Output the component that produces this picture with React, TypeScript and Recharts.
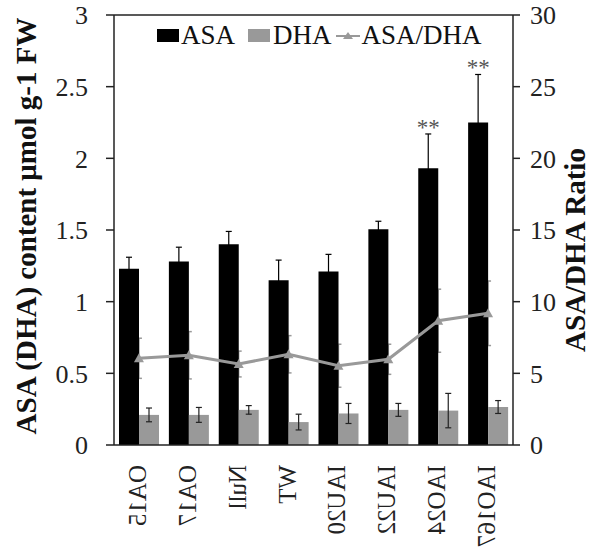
import React from "react";
import {
  ComposedChart,
  Bar,
  Line,
  XAxis,
  YAxis,
  ErrorBar,
  Legend,
  ReferenceLine,
  LabelList,
} from "recharts";

const CATEGORIES = ["OA15", "OA17", "Null", "WT", "IAU20", "IAU22", "IAO24", "IAO167"];
const ASA = [1.23, 1.28, 1.4, 1.15, 1.21, 1.505, 1.93, 2.25];
const ASA_ERR = [0.08, 0.1, 0.09, 0.14, 0.12, 0.056, 0.24, 0.335];
const DHA = [0.21, 0.21, 0.245, 0.16, 0.22, 0.245, 0.24, 0.265];
const DHA_ERR = [0.048, 0.052, 0.03, 0.055, 0.07, 0.045, 0.12, 0.045];
const RATIO = [6.05, 6.26, 5.65, 6.33, 5.53, 5.98, 8.67, 9.19];
const RATIO_ERR = [1.4, 1.65, 0.9, 1.3, 1.5, 1.05, 2.2, 2.25];
const SIG = ["", "", "", "", "", "", "**", "**"];

const LEFT_TICKS = [0, 0.5, 1, 1.5, 2, 2.5, 3];
const RIGHT_TICKS = [0, 5, 10, 15, 20, 25, 30];
const EDGE_TICKS = [0, 1, 2, 3, 4, 5, 6, 7, 8];

const SERIF = '"Liberation Serif", "Times New Roman", serif';
const GREY = "#999999";
const AXIS = "#222222";

const data = CATEGORIES.map((name, i) => ({
  name,
  ASA: ASA[i],
  asaErr: ASA_ERR[i],
  DHA: DHA[i],
  dhaErr: DHA_ERR[i],
  ratio: RATIO[i],
  ratioErr: RATIO_ERR[i],
  sig: SIG[i],
}));

function CategoryTick({ x, y, payload }: any) {
  // labels run top to bottom with the glyph tops facing left
  return (
    <text
      transform={`matrix(0,1,1,0,${x + 7},${y + 18})`}
      fontSize={25}
      fontFamily={SERIF}
      fill={AXIS}
    >
      {payload.value}
    </text>
  );
}

function Triangle({ cx, cy }: any) {
  if (cx == null || cy == null) return null;
  return <path d={`M${cx - 5},${cy + 4} L${cx + 5},${cy + 4} L${cx},${cy - 5} Z`} fill={GREY} />;
}

function SigLabel({ x, y, width, height, value, index }: any) {
  if (!value) return null;
  const top = y - (height * ASA_ERR[index]) / ASA[index];
  return (
    <text x={x + width / 2} y={top + 1} textAnchor="middle" fontSize={23} fontFamily={SERIF} fill="#555">
      {value}
    </text>
  );
}

function LeftLabel({ viewBox }: any) {
  const cx = viewBox.x + 36;
  const cy = viewBox.y + viewBox.height / 2 - 4;
  return (
    <text
      x={cx}
      y={cy}
      transform={`rotate(-90 ${cx} ${cy})`}
      textAnchor="middle"
      fontSize={29}
      fontWeight="bold"
      fontFamily={SERIF}
      fill="#111"
    >
      ASA (DHA) content μmol g-1 FW
    </text>
  );
}

function RightLabel({ viewBox }: any) {
  const cx = viewBox.x + 72;
  const cy = viewBox.y + viewBox.height / 2 + 20;
  return (
    <text
      x={cx}
      y={cy}
      transform={`rotate(-90 ${cx} ${cy})`}
      textAnchor="middle"
      fontSize={29}
      fontWeight="bold"
      fontFamily={SERIF}
      fill="#111"
    >
      ASA/DHA Ratio
    </text>
  );
}

function LegendContent() {
  const text = { fontFamily: SERIF, fontSize: 27, color: "#111", lineHeight: "27px" };
  return (
    <div style={{ display: "flex", alignItems: "center", whiteSpace: "nowrap" }}>
      <span style={{ width: 22, height: 13, background: "#000", marginRight: 2 }} />
      <span style={{ ...text, marginRight: 13 }}>ASA</span>
      <span style={{ width: 22, height: 13, background: GREY, marginRight: 3 }} />
      <span style={{ ...text, marginRight: 4 }}>DHA</span>
      <svg width={24} height={14} style={{ marginRight: 2 }}>
        <line x1={0} y1={7} x2={24} y2={7} stroke={GREY} strokeWidth={2} />
        <path d="M7,10 L17,10 L12,3 Z" fill={GREY} />
      </svg>
      <span style={text}>ASA/DHA</span>
    </div>
  );
}

export default function App() {
  return (
    <div style={{ position: "absolute", left: 0, top: 0, background: "#fff" }}>
      <ComposedChart
        width={591}
        height={554}
        data={data}
        margin={{ top: 15, right: 0, bottom: 0, left: 0 }}
        barSize={20}
        barGap={0}
      >
        <XAxis
          xAxisId="edges"
          type="number"
          domain={[0, 8]}
          ticks={EDGE_TICKS}
          tick={false}
          tickSize={8}
          axisLine={false}
          tickLine={{ stroke: AXIS, strokeWidth: 1.5 }}
          height={0}
        />
        <XAxis
          dataKey="name"
          tick={<CategoryTick />}
          tickSize={0}
          tickLine={false}
          axisLine={{ stroke: AXIS, strokeWidth: 1.5 }}
          height={109}
          interval={0}
        />
        <YAxis
          yAxisId="left"
          domain={[0, 3]}
          ticks={LEFT_TICKS}
          width={114}
          tickSize={8}
          tickMargin={18}
          axisLine={{ stroke: AXIS, strokeWidth: 1.5 }}
          tickLine={{ stroke: AXIS, strokeWidth: 1.5 }}
          tick={{ fontSize: 26, fontFamily: SERIF, fill: AXIS }}
          label={<LeftLabel />}
        />
        <YAxis
          yAxisId="right"
          orientation="right"
          domain={[0, 30]}
          ticks={RIGHT_TICKS}
          width={78}
          tickSize={7}
          tickMargin={10}
          axisLine={{ stroke: AXIS, strokeWidth: 1.5 }}
          tickLine={{ stroke: AXIS, strokeWidth: 1.5 }}
          tick={{ fontSize: 26, fontFamily: SERIF, fill: AXIS, textAnchor: "start" }}
          label={<RightLabel />}
        />
        <ReferenceLine yAxisId="left" y={3} stroke={AXIS} strokeWidth={1.5} />
        <Legend
          layout="horizontal"
          verticalAlign="middle"
          align="center"
          content={<LegendContent />}
          wrapperStyle={{ position: "absolute", top: 22, left: 157, width: "auto" }}
        />
        {/* ratio error bars sit behind the bars, so only the cap ends show */}
        <Line
          yAxisId="right"
          dataKey="ratio"
          stroke="none"
          dot={false}
          activeDot={false}
          legendType="none"
          isAnimationActive={false}
          zIndex={50}
        >
          <ErrorBar dataKey="ratioErr" width={3} stroke={GREY} strokeWidth={1.5} direction="y" zIndex={50} />
        </Line>
        <Bar yAxisId="left" dataKey="ASA" fill="#000" isAnimationActive={false}>
          <ErrorBar dataKey="asaErr" width={3} stroke="#000" strokeWidth={1.2} direction="y" />
          <LabelList dataKey="sig" content={<SigLabel />} />
        </Bar>
        <Bar yAxisId="left" dataKey="DHA" fill={GREY} isAnimationActive={false}>
          <ErrorBar dataKey="dhaErr" width={3} stroke="#222" strokeWidth={1.2} direction="y" />
        </Bar>
        <Line
          yAxisId="right"
          dataKey="ratio"
          stroke={GREY}
          strokeWidth={3}
          dot={<Triangle />}
          activeDot={false}
          isAnimationActive={false}
        />
      </ComposedChart>
    </div>
  );
}
